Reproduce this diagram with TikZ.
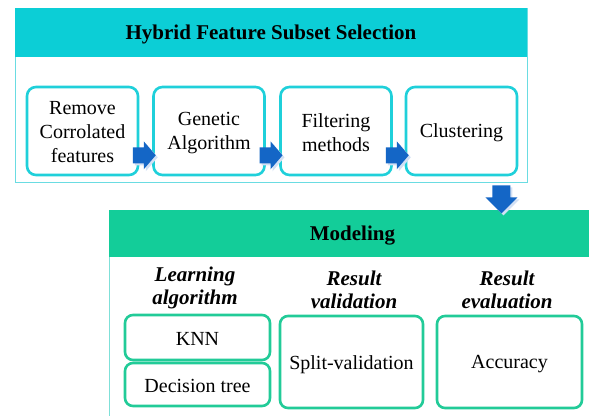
\documentclass[tikz,border=0pt]{standalone}
\usepackage{fontspec}
\setmainfont{Liberation Serif}
\usetikzlibrary{calc}
\definecolor{hfscyan}{HTML}{0CCED6}
\definecolor{hfsline}{HTML}{1FD0DA}
\definecolor{hfsframe}{HTML}{6ADCE2}
\definecolor{modgreen}{HTML}{13CD99}
\definecolor{modline}{HTML}{22CB98}
\definecolor{modframe}{HTML}{7FE0D8}
\definecolor{arrowblue}{HTML}{1466C6}
\definecolor{arrowshade}{HTML}{D2E0F4}
\begin{document}
\begin{tikzpicture}[x=1pt,y=-1pt,
  frame/.style={draw=#1, line width=0.8pt, inner sep=0pt},
  band/.style={fill=#1, inner sep=0pt, text depth=1pt, font=\fontsize{21}{24}\selectfont\bfseries},
  stagebox/.style={draw=hfsline, line width=2.6pt, rounded corners=9pt, fill=white,
    minimum width=111pt, minimum height=88pt, inner sep=0pt},
  modelbox/.style={draw=modline, line width=2.6pt, rounded corners=8pt, fill=white, inner sep=0pt},
  boxtext/.style={align=center, inner sep=0pt, font=\fontsize{20}{24}\selectfont},
  colhead/.style={align=center, inner sep=0pt, font=\fontsize{21}{23}\selectfont\bfseries\itshape},
  rarr/.pic={
    \fill[arrowshade] (-11,-6) -- (0,-6) -- (0,-12) -- (12,2) -- (0,16) -- (0,10) -- (-11,10) -- cycle;
    \fill[arrowblue] (-13,-8) -- (-2,-8) -- (-2,-14) -- (10,0) -- (-2,14) -- (-2,8) -- (-13,8) -- cycle;
  },
  darr/.pic={
    \fill[arrowshade] (-7,2) -- (11,2) -- (11,14) -- (18,14) -- (2,30) -- (-14,14) -- (-7,14) -- cycle;
    \fill[arrowblue] (-9,0) -- (9,0) -- (9,12) -- (16,12) -- (0,28) -- (-16,12) -- (-9,12) -- cycle;
  }]
\useasboundingbox (0,0) rectangle (589,415);
\clip (0,0) rectangle (589,415);

% Hybrid feature subset selection block
\node[frame=hfsframe, minimum width=512pt, minimum height=174pt] (hfs) at (271,95) {};
\node[band=hfscyan, minimum width=512pt, minimum height=49pt] (hfshead) at (271,32.5)
  {Hybrid Feature Subset Selection};

\node[stagebox] (b1) at (82.5,131) {};
\node[stagebox] (b2) at (209,131) {};
\node[stagebox] (b3) at (336,131) {};
\node[stagebox] (b4) at (461.5,131) {};
\node[boxtext] (b1t) at ([yshift=-1.5pt]b1.center) {Remove\\Corrolated\\features};
\node[boxtext] (b2t) at ([yshift=-2pt]b2.center) {Genetic\\Algorithm};
\node[boxtext] (b3t) at ([yshift=-2pt]b3.center) {Filtering\\methods};
\node[boxtext] (b4t) at ([yshift=-2pt]b4.center) {Clustering};

\pic at ($(b1.south east)!0.5!(b2.south west)+(0,-21)$) {rarr};
\pic at ($(b2.south east)!0.5!(b3.south west)+(0,-21)$) {rarr};
\pic at ($(b3.south east)!0.5!(b4.south west)+(0,-21)$) {rarr};

% Modeling block
\node[frame=modframe, minimum width=487pt, minimum height=230pt] (mod) at (352.5,325) {};
\node[band=modgreen, minimum width=487pt, minimum height=47pt] (modhead) at (352.5,233.5) {Modeling};

\pic at ($(hfs.south east)+(-26,3)$) {darr};

\node[colhead] (h1) at (195,288) {Learning\\algorithm};
\node[colhead] (h2) at (354,290) {Result\\validation};
\node[colhead] (h3) at (507,290) {Result\\evaluation};

\node[modelbox, minimum width=145pt, minimum height=45pt] (knn) at (197.5,337.5) {};
\node[modelbox, minimum width=145pt, minimum height=43pt] (dt) at (197.5,384.5) {};
\node[modelbox, minimum width=143pt, minimum height=92pt] (split) at (351.5,362) {};
\node[modelbox, minimum width=145pt, minimum height=92pt] (acc) at (509.5,362) {};
\node[boxtext] (knnt) at ([yshift=-1pt]knn.center) {KNN};
\node[boxtext] (dtt) at ([yshift=-1pt]dt.center) {Decision tree};
\node[boxtext] (splitt) at ([yshift=-2.5pt]split.center) {Split-validation};
\node[boxtext] (acct) at ([yshift=-2.5pt]acc.center) {Accuracy};
\end{tikzpicture}
\end{document}
